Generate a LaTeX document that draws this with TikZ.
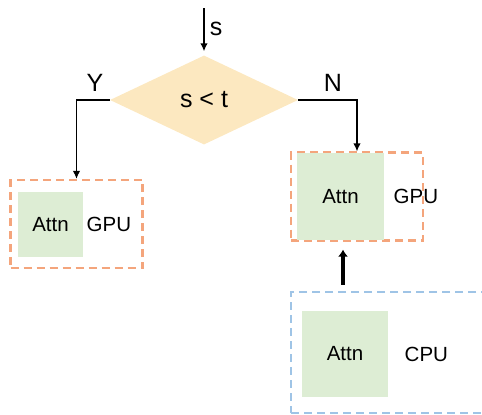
\documentclass[tikz,border=0pt]{standalone}
\usepackage{fontspec}
\setmainfont{Liberation Sans}
\usetikzlibrary{arrows.meta,positioning,shapes.geometric}
\definecolor{attngreen}{HTML}{DDEDD4}
\definecolor{decyellow}{HTML}{FCE8C0}
\definecolor{gpuorange}{HTML}{F4A57C}
\definecolor{cpublue}{HTML}{9FC4E6}

\begin{document}
\begin{tikzpicture}[>=Latex,x=1pt,y=-1pt,font=\fontsize{20.5}{24}\selectfont]
  \tikzstyle{attn}=[fill=attngreen,inner sep=0pt]
  \tikzstyle{dev}=[line width=2.2pt,dash pattern=on 8pt off 5pt,minimum width=132pt,minimum height=88pt,inner sep=0pt]
  \tikzstyle{big}=[font=\fontsize{25}{28}\selectfont]
  \tikzstyle{wire}=[line width=1.4pt,-{Latex[length=8pt,width=7.5pt]}]
  \useasboundingbox (0,0) rectangle (482,415);
  \clip (0,0) rectangle (482,415);
  % decision
  \coordinate (in) at (204,8);
  \node[diamond,fill=decyellow,minimum width=188pt,minimum height=89pt,inner sep=0pt,big] (dec) at (204,100) {s < t};
  \node[big] (slbl) at (216,29) {s};
  \draw[wire,shorten >=4pt] (in) -- (dec.north);
  \node[big] (yes) at (95,83) {Y};
  \node[big] (no) at (333,83) {N};
  % left: small attn on GPU
  \node[dev,draw=gpuorange] (gpuL) at (76.5,224) {};
  \node[attn,minimum width=65pt,minimum height=65pt] (attnL) at (50.5,224.5) {Attn};
  \node[right=0pt of attnL] (gpuLtxt) {GPU};
  % right: large attn on GPU
  \node[dev,draw=gpuorange] (gpuR) at (357,196.5) {};
  \node[attn,minimum width=87pt,minimum height=87pt] (attnR) at (340.5,196.5) {Attn};
  \node[right=6pt of attnR] (gpuRtxt) {GPU};
  % CPU
  \node[dev,draw=cpublue,minimum width=214pt,minimum height=121pt] (cpu) at (398,352.5) {};
  \node[attn,minimum width=86pt,minimum height=86pt] (attnC) at (345,354) {Attn};
  \node[right=13pt of attnC] (cputxt) {CPU};
  % connectors
  \draw[wire] (dec.west) -| (gpuL.north);
  \draw[wire] (dec.east) -| (gpuR.north);
  \draw[line width=3.8pt,-{Latex[length=7pt,width=10pt]},shorten <=6pt,shorten >=8pt] (cpu.north -| 343,0) -- (gpuR.south -| 343,0);
\end{tikzpicture}
\end{document}
